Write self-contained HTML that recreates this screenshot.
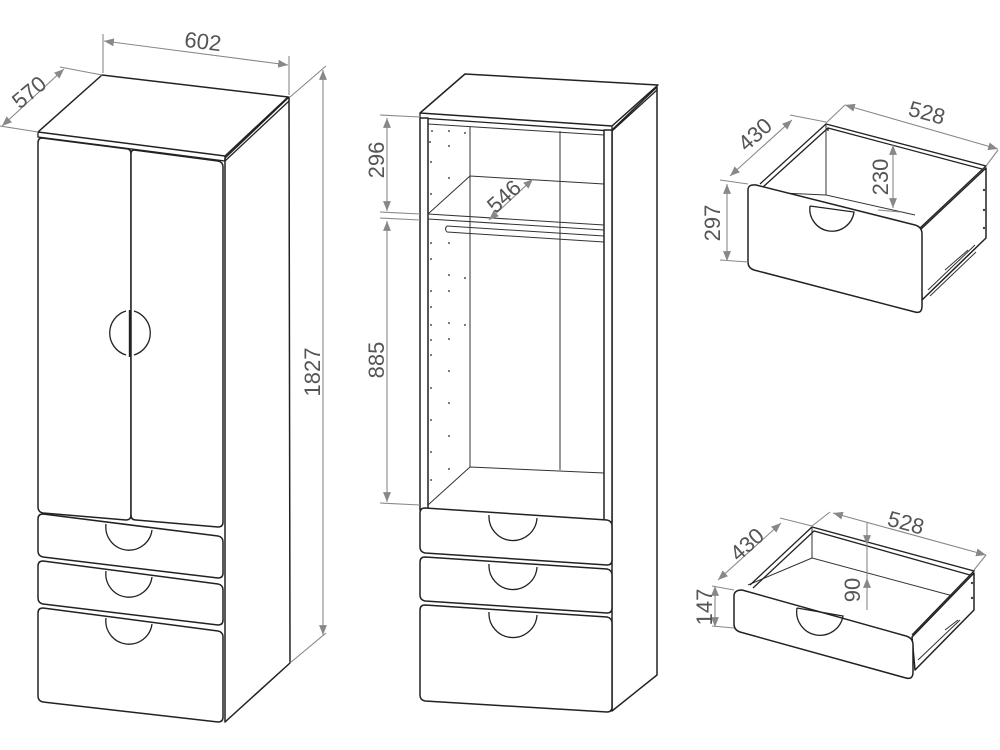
<!DOCTYPE html>
<html><head><meta charset="utf-8"><style>
html,body{margin:0;padding:0;background:#fff}
svg{display:block}
.k{fill:#fff;stroke:#222;stroke-width:1.5;stroke-linejoin:round}
.l{fill:none;stroke:#222;stroke-width:1.3}
.t{fill:none;stroke:#333;stroke-width:1}
.d{fill:none;stroke:#888;stroke-width:1.1}
.a{fill:#888}
text{font-family:"Liberation Sans",sans-serif;font-size:22px;fill:#555;text-anchor:middle}
</style></head><body>
<svg width="1000" height="750" viewBox="0 0 1000 750" xmlns="http://www.w3.org/2000/svg">
<defs>
<marker id="ar" viewBox="0 0 10 10" refX="10" refY="5" markerWidth="9" markerHeight="9" orient="auto-start-reverse"><path d="M0,1 L10,5 L0,9 z" fill="#888"/></marker>
</defs>

<!-- ===== Wardrobe 1 ===== -->
<polygon class="k" points="225,158 289,97 290,663 225,722"/>
<polygon class="k" points="38,132 102,75 288,97 225,156"/>
<path class="l" d="M38,132 L38,137 L225,161 L225,156"/>
<path class="l" d="M225,161 L289,101"/>
<path class="k" d="M42,138 L128,149 Q131,150 131,154 L131,515 Q131,520 126,520 L43,513 Q38,512 38,507 L38,143 Q38,138 42,138 Z"/>
<path class="k" d="M134,150 L218,161 Q223,162 223,167 L223,522 Q223,527 218,527 L136,520 Q131,520 131,515 L131,154 Q131,150 134,150 Z"/>
<path class="l" d="M126,311 A23,23 0 0 0 126,355"/>
<path class="l" d="M134,311 A23,23 0 0 1 134,355"/>
<path class="l" d="M130,310 L130,357" style="stroke-width:2.4"/>
<g>
<path class="k" d="M43,514 L218,536 Q223,537 223,542 L223,573 Q223,578 218,578 L43,557 Q38,556 38,551 L38,519 Q38,514 43,514 Z"/>
<path class="l" d="M106,524 A23,23 0 0 0 152,530"/>
<path class="k" d="M43,561 L218,584 Q223,585 223,590 L223,620 Q223,625 218,625 L43,604 Q38,603 38,598 L38,566 Q38,561 43,561 Z"/>
<path class="l" d="M106,571 A23,23 0 0 0 152,577"/>
<path class="k" d="M43,608 L218,631 Q223,632 223,637 L223,717 Q223,722 218,722 L43,702 Q38,701 38,696 L38,613 Q38,608 43,608 Z"/>
<path class="l" d="M106,618 A23,23 0 0 0 152,624"/>
</g>
<path class="d" d="M103,73 L103,34 M289,95 L289,56 M102,75 L60,67 M38,132 L0,126 M290,97 L326,66 M290,663 L326,633"/>
<line class="d" x1="104" y1="41" x2="288" y2="65" marker-start="url(#ar)" marker-end="url(#ar)"/>
<line class="d" x1="64" y1="69" x2="2" y2="126" marker-start="url(#ar)" marker-end="url(#ar)"/>
<line class="d" x1="323" y1="70" x2="323" y2="635" marker-start="url(#ar)" marker-end="url(#ar)"/>
<text transform="translate(202,49) rotate(7)">602</text>
<text transform="translate(34,98) rotate(-40)">570</text>
<text transform="translate(320,372) rotate(-90)">1827</text>

<!-- ===== Wardrobe 2 ===== -->
<polygon class="k" points="612,130 657,87 657,675 612,711"/>
<polygon class="k" points="420,113 465,74 658,85 612,126"/>
<path class="l" d="M420,113 L420,118 L612,131 L612,126 M612,131 L657,90"/>
<rect class="k" x="420" y="118" width="8" height="392"/>
<rect class="k" x="604" y="130" width="8" height="392"/>
<path class="t" d="M428,124 L604,135"/>
<path class="t" d="M470,127 L470,467 M560,131 L560,470 M470,176 L604,184 M428,214 L470,176 M428,214 L604,225 M428,219 L604,230"/>
<path class="t" d="M447,226 L604,236 M447,232 L604,242 M447,226 Q444,229 447,232"/>
<path class="t" d="M470,467 L604,473 M428,505 L470,467"/>
<g fill="#555">
<circle cx="432" cy="131" r="1"/><circle cx="449" cy="131" r="1"/><circle cx="465" cy="133" r="1"/><circle cx="430" cy="142" r="1"/><circle cx="449" cy="146" r="1"/><circle cx="431" cy="162" r="1"/><circle cx="449" cy="178" r="1"/><circle cx="431" cy="194" r="1"/>
<circle cx="431" cy="243" r="1"/><circle cx="449" cy="243" r="1"/><circle cx="431" cy="259" r="1"/><circle cx="449" cy="275" r="1"/><circle cx="465" cy="278" r="1"/><circle cx="431" cy="291" r="1"/><circle cx="449" cy="291" r="1"/><circle cx="431" cy="307" r="1"/><circle cx="431" cy="325" r="1"/><circle cx="449" cy="323" r="1"/><circle cx="465" cy="325" r="1"/><circle cx="431" cy="340" r="1"/><circle cx="449" cy="339" r="1"/><circle cx="431" cy="355" r="1"/><circle cx="449" cy="371" r="1"/><circle cx="431" cy="388" r="1"/><circle cx="449" cy="403" r="1"/><circle cx="431" cy="420" r="1"/><circle cx="449" cy="436" r="1"/><circle cx="431" cy="452" r="1"/><circle cx="431" cy="480" r="1"/><circle cx="449" cy="469" r="1"/>
</g>
<path class="k" d="M425,508 L607,520 Q612,521 612,526 L612,560 Q612,565 607,565 L425,553 Q420,552 420,547 L420,513 Q420,508 425,508 Z"/>
<path class="l" d="M489,515 A24,24 0 0 0 537,518"/>
<path class="k" d="M425,557 L607,569 Q612,570 612,575 L612,608 Q612,613 607,613 L425,601 Q420,600 420,595 L420,562 Q420,557 425,557 Z"/>
<path class="l" d="M489,564 A24,24 0 0 0 537,567"/>
<path class="k" d="M425,605 L607,617 Q612,618 612,623 L612,707 Q612,712 607,712 L425,701 Q420,700 420,695 L420,610 Q420,605 425,605 Z"/>
<path class="l" d="M489,612 A24,24 0 0 0 537,615"/>
<path class="d" d="M420,117 L380,115 M420,214 L380,212 M420,220 L380,218 M420,505 L380,503"/>
<line class="d" x1="387" y1="118" x2="387" y2="211" marker-start="url(#ar)" marker-end="url(#ar)"/>
<line class="d" x1="387" y1="221" x2="387" y2="502" marker-start="url(#ar)" marker-end="url(#ar)"/>
<line class="d" x1="489" y1="220" x2="533" y2="179" marker-start="url(#ar)" marker-end="url(#ar)"/>
<text transform="translate(384,160) rotate(-90)">296</text>
<text transform="translate(384,360) rotate(-90)">885</text>
<text transform="translate(509,202) rotate(-42)">546</text>

<!-- ===== Drawer top-right ===== -->
<path class="t" d="M826,125 L826,195 L915,215 M826,195 L760,192"/>
<polygon class="k" points="920,230 986,168 986,238 922,300"/>
<path class="l" d="M760,184 L826,124 L986,166 L920,228 M763,187 L828,128 L982,169 M828,128 L828,131"/>
<path class="k" d="M756,185 L915,225 Q922,227 922,234 L922,306 Q922,314 915,312 L754,270 Q748,268 748,262 L748,190 Q748,184 756,185 Z"/>
<path class="l" d="M810,206 A22,22 0 0 0 854,212 L810,206"/>
<path class="t" d="M928,290 L975,245 M930,296 L976,252 M945,270 L968,250"/>
<circle cx="984" cy="190" r="1.2" fill="#444"/><circle cx="984" cy="210" r="1.2" fill="#444"/><circle cx="984" cy="228" r="1.2" fill="#444"/>
<path class="d" d="M826,123 L845,105 M986,166 L998,150 M748,184 L720,180 M748,262 L720,260 M826,122 L790,115"/>
<line class="d" x1="845" y1="105" x2="998" y2="149" marker-start="url(#ar)" marker-end="url(#ar)"/>
<line class="d" x1="792" y1="120" x2="730" y2="176" marker-start="url(#ar)" marker-end="url(#ar)"/>
<line class="d" x1="727" y1="184" x2="727" y2="261" marker-start="url(#ar)" marker-end="url(#ar)"/>
<line class="d" x1="893" y1="145" x2="893" y2="208" marker-start="url(#ar)" marker-end="url(#ar)"/>
<path class="d" d="M878,210 L900,212"/>
<text transform="translate(925,120) rotate(15)">528</text>
<text transform="translate(760,140) rotate(-42)">430</text>
<text transform="translate(720,223) rotate(-90)">297</text>
<text transform="translate(888,177) rotate(-90)">230</text>

<!-- ===== Drawer bottom-right ===== -->
<path class="t" d="M812,528 L812,558 L968,600 M812,558 L748,585"/>
<polygon class="k" points="912,637 974,573 974,610 915,670"/>
<path class="l" d="M750,585 L812,527 L974,571 L912,635 M753,588 L814,531 L970,575"/>
<path class="k" d="M742,590 L906,636 Q913,638 913,645 L913,672 Q913,680 906,678 L740,632 Q734,630 734,624 L734,596 Q734,590 742,590 Z"/>
<path class="l" d="M797,608 A22,22 0 0 0 843,616 L797,608"/>
<path class="t" d="M918,660 L960,620 M945,630 L958,620"/>
<circle cx="972" cy="583" r="1.2" fill="#444"/><circle cx="972" cy="598" r="1.2" fill="#444"/>
<path class="d" d="M812,526 L830,512 M974,570 L986,555 M734,590 L712,586 M734,628 L712,626 M812,526 L780,518"/>
<line class="d" x1="833" y1="513" x2="986" y2="555" marker-start="url(#ar)" marker-end="url(#ar)"/>
<line class="d" x1="781" y1="523" x2="718" y2="580" marker-start="url(#ar)" marker-end="url(#ar)"/>
<line class="d" x1="715" y1="586" x2="715" y2="627" marker-start="url(#ar)" marker-end="url(#ar)"/>
<line class="d" x1="867" y1="522" x2="867" y2="545" marker-end="url(#ar)"/>
<line class="d" x1="867" y1="610" x2="867" y2="578" marker-end="url(#ar)"/>
<line class="d" x1="867" y1="545" x2="867" y2="578"/>
<text transform="translate(904,530) rotate(15)">528</text>
<text transform="translate(752,550) rotate(-42)">430</text>
<text transform="translate(712,607) rotate(-90)">147</text>
<text transform="translate(860,590) rotate(-90)">90</text>
</svg>
</body></html>
